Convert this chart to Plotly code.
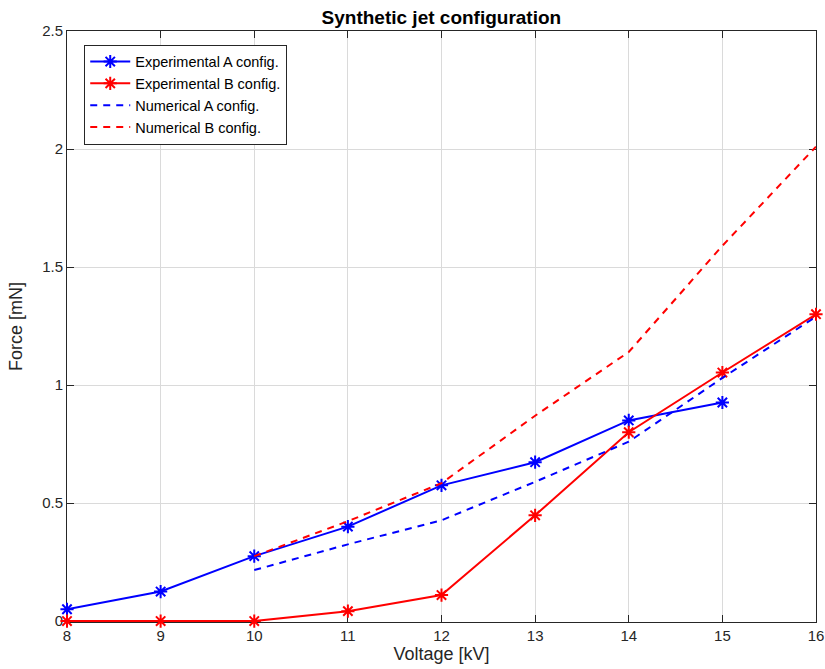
import plotly.graph_objects as go

exp_a_x = [8, 9, 10, 11, 12, 13, 14, 15]
exp_a_y = [0.05, 0.125, 0.275, 0.40, 0.575, 0.673, 0.85, 0.926]
exp_b_x = [8, 9, 10, 11, 12, 13, 14, 15, 16]
exp_b_y = [0.0, 0.0, 0.0, 0.042, 0.11, 0.448, 0.80, 1.053, 1.30]
num_x = [10, 11, 12, 13, 14, 15, 16]
num_a_y = [0.216, 0.325, 0.427, 0.59, 0.76, 1.03, 1.29]
num_b_y = [0.275, 0.423, 0.584, 0.87, 1.14, 1.59, 2.01]
y_ticks = [0, 0.5, 1, 1.5, 2, 2.5]
y_tick_text = ["0", "0.5", "1", "1.5", "2", "2.5"]

font = "Liberation Sans, Arial, Helvetica, sans-serif"
fig = go.Figure()
fig.add_trace(go.Scatter(x=exp_a_x, y=exp_a_y, mode="lines+markers", name="Experimental A config.",
                         line=dict(color="#0000ff", width=2), cliponaxis=False,
                         marker=dict(symbol="asterisk-open", size=11, color="#0000ff", line=dict(color="#0000ff", width=2))))
fig.add_trace(go.Scatter(x=exp_b_x, y=exp_b_y, mode="lines+markers", name="Experimental B config.",
                         line=dict(color="#ff0000", width=2), cliponaxis=False,
                         marker=dict(symbol="asterisk-open", size=11, color="#ff0000", line=dict(color="#ff0000", width=2))))
fig.add_trace(go.Scatter(x=num_x, y=num_a_y, mode="lines", name="Numerical A config.",
                         line=dict(color="#0000ff", width=2, dash="7px,6px")))
fig.add_trace(go.Scatter(x=num_x, y=num_b_y, mode="lines", name="Numerical B config.",
                         line=dict(color="#ff0000", width=2, dash="7px,6px")))

axis_common = dict(showline=True, linecolor="#262626", linewidth=1, mirror="ticks",
                   ticks="inside", ticklen=7, tickcolor="#262626", layer="below traces",
                   showgrid=True, gridcolor="#dadada", gridwidth=1, zeroline=False,
                   tickfont=dict(size=15, color="#262626", family=font))
fig.update_xaxes(range=[8, 16], dtick=1,
                 title=dict(text="Voltage [kV]", font=dict(size=18, color="#262626", family=font), standoff=2),
                 **axis_common)
fig.update_yaxes(range=[-0.004, 2.5], tickvals=y_ticks, ticktext=y_tick_text,
                 title=dict(text="Force [mN]", font=dict(size=18, color="#262626", family=font), standoff=14),
                 **axis_common)

fig.update_layout(
    width=825, height=669,
    margin=dict(l=67, r=9, t=31, b=47, autoexpand=False),
    paper_bgcolor="white", plot_bgcolor="white",
    font=dict(family=font, color="#000000"),
    title=dict(text="<b>Synthetic jet configuration</b>", x=0.535, xanchor="center", y=0.984, yanchor="top",
               font=dict(size=19, color="#000000", family=font)),
    legend=dict(x=0.023, y=0.977, xanchor="left", yanchor="top", bgcolor="white",
                bordercolor="#262626", borderwidth=1, font=dict(size=14.5, family=font),
                tracegroupgap=0, itemwidth=40),
    showlegend=True,
)
fig.write_html("out.html", config={"displayModeBar": False},
               post_script="document.body.style.margin='0';document.body.style.overflow='hidden';")
